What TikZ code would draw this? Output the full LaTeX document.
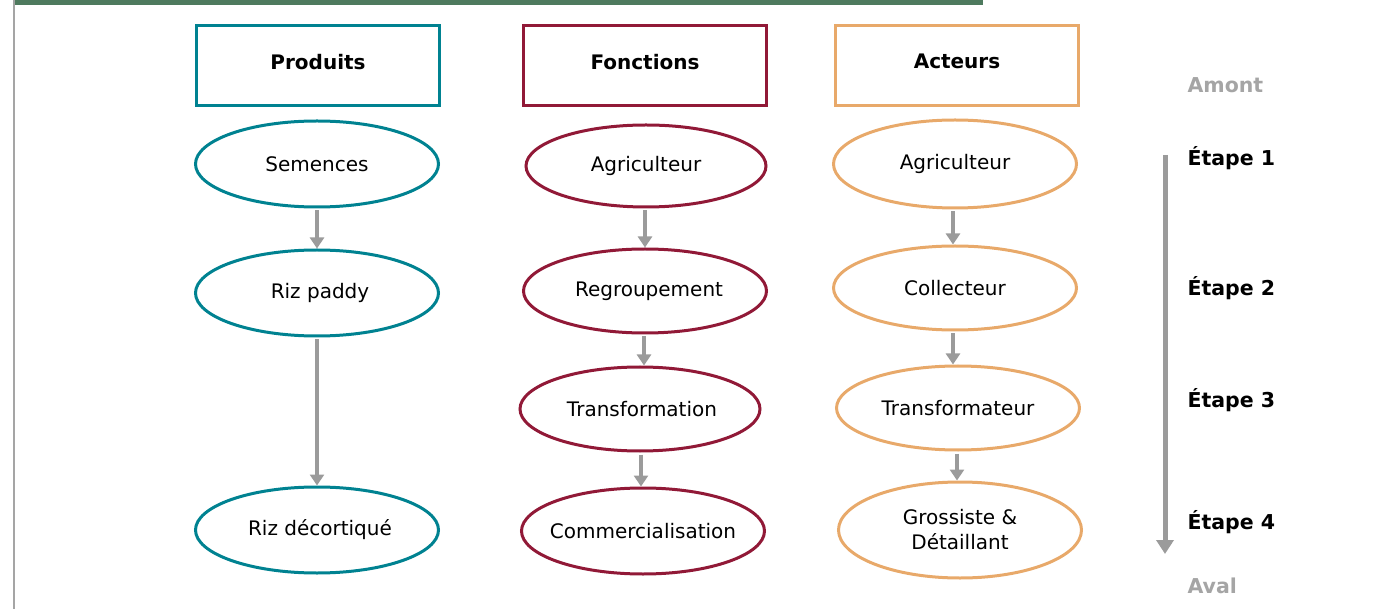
\documentclass[tikz,border=0pt]{standalone}
\usepackage{fontspec}
\setmainfont{DejaVu Sans}
\usetikzlibrary{shapes.geometric,arrows.meta}
\definecolor{teal1}{RGB}{0,130,145}
\definecolor{wine}{RGB}{145,25,55}
\definecolor{orng}{RGB}{232,169,106}
\definecolor{grn}{RGB}{78,122,94}
\definecolor{arr}{RGB}{155,155,155}
\definecolor{lgray}{RGB}{165,165,165}
\tikzset{
  hdr/.style={draw, line width=3pt, minimum width=243pt, minimum height=80pt, inner sep=0pt, text depth=9pt, font=\fontsize{20}{22}\selectfont\bfseries},
  ell/.style={draw, ellipse, line width=3pt, minimum width=243pt, minimum height=86pt, inner ysep=0pt, inner xsep=-30pt, font=\fontsize{20}{25}\selectfont, align=center},
  flow/.style={draw=arr, line width=4pt, -{Triangle[width=14pt,length=11pt]}, shorten <=2pt},
  etape/.style={anchor=west, font=\fontsize{20.5}{22}\selectfont\bfseries},
  ends/.style={anchor=west, text=lgray, font=\fontsize{20.5}{22}\selectfont\bfseries}
}
\begin{document}
\begin{tikzpicture}[x=1pt,y=-1pt]
\useasboundingbox (0,0) rectangle (1389,609);
\fill[grn] (14,0) rectangle (983,5);
\draw[lgray, line width=2pt] (14,0) -- (14,609);
% headers
\node[hdr, draw=teal1] (hp) at (318,66) {Produits};
\node[hdr, draw=wine] (hf) at (645,66) {Fonctions};
\node[hdr, draw=orng] (ha) at (957,66) {Acteurs};
% col 1
\node[ell, draw=teal1] (p1) at (317,164) {Semences};
\node[ell, draw=teal1] (p2) at (317,293) {\hspace*{6pt}Riz paddy};
\node[ell, draw=teal1] (p3) at (317,530) {\hspace*{6pt}Riz décortiqué};
% col 2
\node[ell, draw=wine, minimum width=240pt, minimum height=82pt] (f1) at (646,166) {Agriculteur};
\node[ell, draw=wine, minimum height=84pt] (f2) at (645,291) {\hspace*{8pt}Regroupement};
\node[ell, draw=wine, minimum width=240pt, minimum height=84pt] (f3) at (640,409) {\hspace*{4pt}Transformation};
\node[ell, draw=wine, minimum height=86pt] (f4) at (643,531) {Commercialisation};
% col 3
\node[ell, draw=orng, minimum height=88pt] (a1) at (955,164) {Agriculteur};
\node[ell, draw=orng, minimum height=84pt] (a2) at (955,288) {Collecteur};
\node[ell, draw=orng, minimum height=84pt] (a3) at (958,408) {Transformateur};
\node[ell, draw=orng, minimum height=96pt] (a4) at (960,530) {Grossiste \&\\Détaillant};
% arrows
\draw[flow] (p1) -- (p2);
\draw[flow] (p2) -- (p3);
\draw[flow] ([xshift=-1pt]f1.south) -- ([xshift=-1pt]f1.south |- f2.north);
\draw[flow] ([xshift=-1pt]f2.south) -- ([xshift=-1pt]f2.south |- f3.north);
\draw[flow] ([xshift=1pt]f3.south) -- ([xshift=1pt]f3.south |- f4.north);
\draw[flow] ([xshift=-2pt]a1.south) -- ([xshift=-2pt]a1.south |- a2.north);
\draw[flow] ([xshift=-2pt]a2.south) -- ([xshift=-2pt]a2.south |- a3.north);
\draw[flow] ([xshift=-1pt]a3.south) -- ([xshift=-1pt]a3.south |- a4.north);
% right scale
\coordinate (st) at (1165,155);
\coordinate (en) at (1165,554);
\draw[draw=arr, line width=5pt, -{Triangle[width=17pt,length=14pt]}] (st) -- (en);
\node[ends] (am) at (1184,85) {Amont};
\node[etape] (e1) at (1184,158) {Étape 1};
\node[etape] (e2) at (1184,288) {Étape 2};
\node[etape] (e3) at (1184,400) {Étape 3};
\node[etape] (e4) at (1184,522) {Étape 4};
\node[ends] (av) at (1184,586) {Aval};
\end{tikzpicture}
\end{document}
